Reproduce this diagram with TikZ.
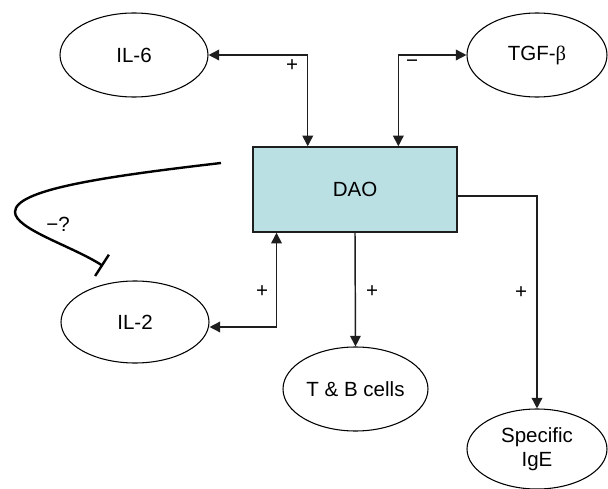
\documentclass[tikz,border=0pt]{standalone}
\usepackage{fontspec}
\setmainfont{Liberation Sans}
\newfontfamily\greekserif{Liberation Serif}
\usetikzlibrary{shapes.geometric,arrows.meta,calc}
\definecolor{daofill}{RGB}{187,224,227}
\definecolor{edgegray}{RGB}{30,30,30}
\begin{document}
\begin{tikzpicture}[x=0.75pt,y={(0pt,-0.75pt)},
  font=\fontsize{15.4}{18}\selectfont,
  oval/.style={ellipse,draw=black,line width=0.8pt,inner sep=0pt,
    minimum width=111pt,minimum height=63pt,align=center},
  daobox/.style={rectangle,draw=edgegray,line width=1.1pt,fill=daofill,
    minimum width=153pt,minimum height=63.75pt,inner sep=0pt},
  both/.style={draw=edgegray,line width=1.1pt,{Triangle[length=8pt,width=8pt]}-{Triangle[length=8pt,width=8pt]}},
  one/.style={draw=edgegray,line width=1.1pt,-{Triangle[length=8pt,width=8pt]}},
  inhib/.style={draw=black,line width=1.8pt,-{Bar[width=19pt]}},
  lbl/.style={inner sep=0pt}
]
\useasboundingbox (0,0) rectangle (608,489);

% nodes
\node[daobox] (dao) at (355,189.5) {DAO};
\node[oval] (il6) at (134,55) {IL-6};
\node[oval,minimum width=105pt] (tgf) at (537,55) {TGF-{\greekserif β}};
\node[oval,minimum height=61.5pt] (il2) at (135,322) {IL-2};
\node[oval,minimum width=108.75pt] (tb) at (355.5,389) {T \& B cells};
\node[oval,minimum width=105pt,minimum height=60pt] (ige) at (537,449) {Specific\\IgE};

% connectors
\draw[both] (il6.east) -| ($(dao.north west)!0.27!(dao.north east)$);
\draw[both] (tgf.west) -| ($(dao.north west)!0.711!(dao.north east)$);
\draw[both] ($(il2.east)+(0,5)$) -| ($(dao.south west)!0.118!(dao.south east)$);
\draw[one] (dao.south) -- (tb.north);
\draw[one] ($(dao.east)+(0,6.5)$) -| (ige.north);

% inhibitory curve
\coordinate (cs) at (221,163);
\coordinate (ce) at (103,266);
\draw[inhib] (cs) .. controls (100,177) and (15,190) .. (15,212)
  .. controls (15,229) and (72,246) .. (ce);

% labels
\node[lbl] (lp1) at (292,66) {+};
\node[lbl] (lm) at (412,64) {−};
\node[lbl] (lq) at (58,224) {−?};
\node[lbl] (lp2) at (262,292) {+};
\node[lbl] (lp3) at (372,292) {+};
\node[lbl] (lp4) at (521,293) {+};
\end{tikzpicture}
\end{document}
